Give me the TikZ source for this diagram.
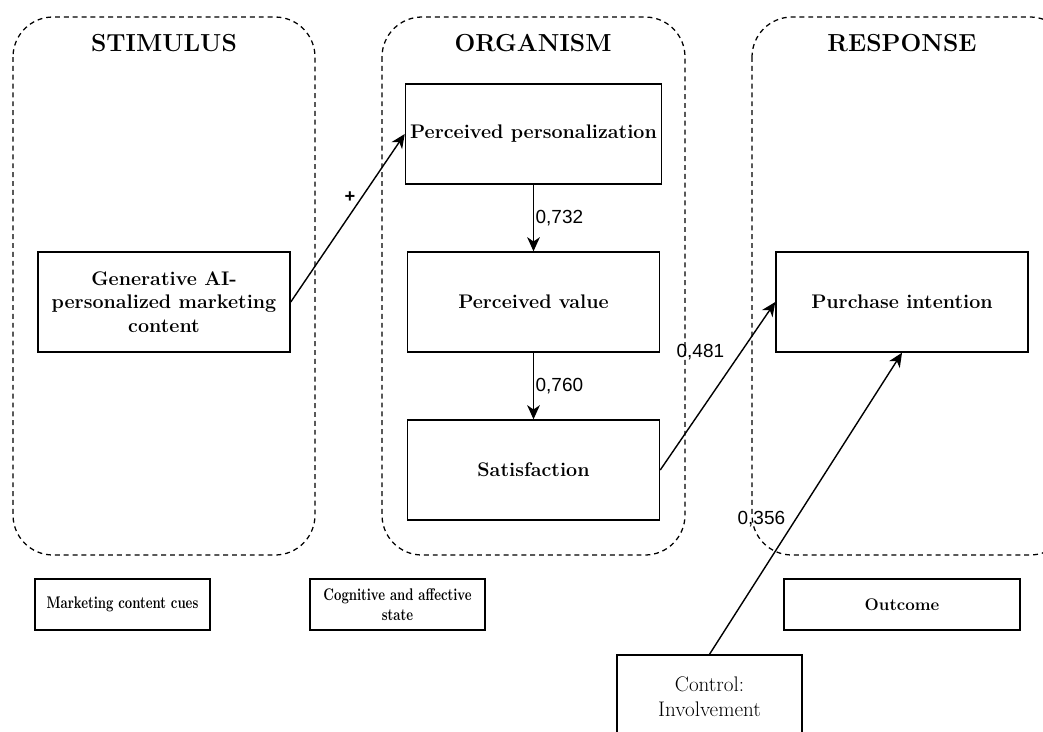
\documentclass[tikz,border=0pt]{standalone}
\usepackage{fontspec}
\setsansfont{Liberation Sans}
\newfontfamily\narrowbf{lmroman10-bold}[Extension=.otf, FakeStretch=0.76]
\usepackage{tikz}
\usetikzlibrary{arrows.meta}

\begin{document}
\begin{tikzpicture}[x=0.025cm, y=-0.025cm,
  panel/.style={draw, dash pattern=on 3.5pt off 2.8pt, line width=0.9pt, rounded corners=1cm},
  title/.style={font=\bfseries\fontsize{17.5}{20}\selectfont},
  box/.style={draw, line width=1pt, minimum width=6.3cm, minimum height=2.5cm, align=center,
    font=\bfseries\fontsize{14}{16.5}\selectfont},
  cue/.style={draw, line width=1pt, minimum width=4.375cm, minimum height=1.275cm, align=center,
    font=\narrowbf\fontsize{12}{14}\selectfont},
  coef/.style={font=\sffamily\fontsize{13.5}{15}\selectfont},
  link/.style={draw, line width=1pt, -{Stealth[length=10pt, width=9pt, inset=3pt]}}]
\clip (0,0) rectangle (1043,731);

% S-O-R panels
\draw[panel] (13,17) rectangle (315,555);
\draw[panel] (382,17) rectangle (685,555);
\draw[panel] (752,17) rectangle (1070,555);
\node[title] (tstim) at (164,43) {STIMULUS};
\node[title] (torg) at (533,43) {ORGANISM};
\node[title] (tresp) at (902,43) {RESPONSE};

% constructs
\node[box] (gen) at (164,302) {Generative AI-\\personalized marketing\\content};
\node[box] (pers) at (533.5,134) {Perceived personalization};
\node[box] (val) at (533.5,302) {Perceived value};
\node[box] (sat) at (533.5,470) {Satisfaction};
\node[box] (pur) at (902,302) {Purchase intention};

% bottom captions
\node[cue] (cues) at (122.5,604.5) {Marketing content cues};
\node[cue] (state) at (397.5,604.5) {Cognitive and affective\\state};
\node[cue, minimum width=5.9cm, font=\bfseries\fontsize{12}{14}\selectfont] (outc) at (902,604.5) {Outcome};
\node[draw, line width=1pt, minimum width=4.625cm, minimum height=2.1cm, align=center,
  font=\fontsize{15}{17.5}\selectfont] (ctrl) at (709.5,697) {Control:\\Involvement};

% paths
\draw[link] (gen.east) -- node[pos=0.625, left=1pt, font=\sffamily\bfseries\fontsize{13}{14}\selectfont] {+} (pers.west);
\draw[link] (pers.south) -- node[coef, right=0pt, inner sep=1pt] {0,732} (val.north);
\draw[link] (val.south) -- node[coef, right=0pt, inner sep=1pt] {0,760} (sat.north);
\draw[link] (sat.east) -- node[coef, pos=0.7, left=8pt] {0,481} (pur.west);
\draw[link] (ctrl.north) -- node[coef, pos=0.45, left=4pt] {0,356} (pur.south);
\end{tikzpicture}
\end{document}
